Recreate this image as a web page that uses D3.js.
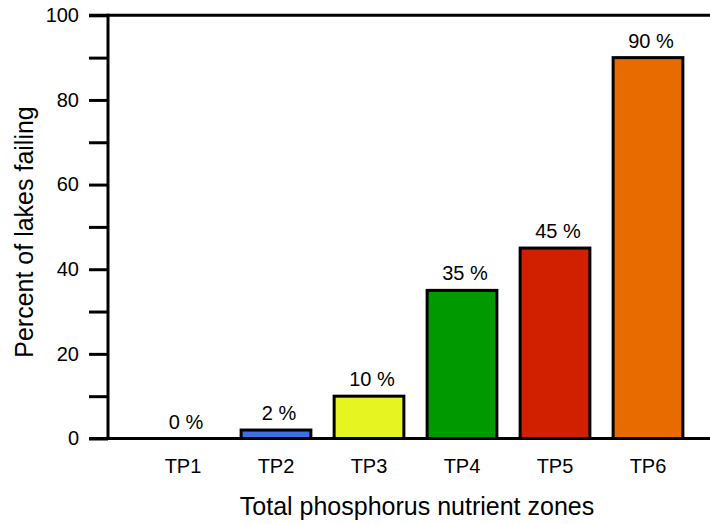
<!DOCTYPE html>
<html>
<head>
<meta charset="utf-8">
<script src="https://cdn.jsdelivr.net/npm/d3@7"></script>
<style>
  body { margin: 0; background: #fff; }
  svg { font-family: "Liberation Sans", Arial, sans-serif; }
</style>
</head>
<body>
<div id="chart"></div>
<script>
// data
var zones = ["TP1", "TP2", "TP3", "TP4", "TP5", "TP6"];
var failing = [0, 2, 10, 35, 45, 90];
var barColors = ["#ffffff", "#3b6fe6", "#e6f522", "#009a00", "#d02000", "#e86b00"];
var yTicks = [0, 10, 20, 30, 40, 50, 60, 70, 80, 90, 100];
var yLabels = [0, 20, 40, 60, 80, 100];

var W = 710, H = 524;

var svg = d3.select("#chart")
  .append("svg")
    .attr("width", W)
    .attr("height", H);

var x = d3.scaleBand()
  .domain(zones)
  .range([136.5, 694.5])
  .paddingInner(0.25)
  .paddingOuter(0.125);

var y = d3.scaleLinear()
  .domain([0, 100])
  .range([438.5, 15.3]);

var axisX = 108;

// top frame line
svg.append("line")
  .attr("x1", 89).attr("x2", W)
  .attr("y1", y(100)).attr("y2", y(100))
  .attr("stroke", "#000").attr("stroke-width", 3);

// bars
svg.selectAll(".bar")
  .data(zones)
  .enter()
  .append("rect")
    .attr("class", "bar")
    .attr("x", function(d) { return x(d); })
    .attr("y", function(d, i) { return y(failing[i]); })
    .attr("width", x.bandwidth())
    .attr("height", function(d, i) { return y(0) - y(failing[i]); })
    .style("fill", function(d, i) { return barColors[i]; })
    .style("stroke", "#000")
    .style("stroke-width", 3);

// baseline
svg.append("line")
  .attr("x1", 89).attr("x2", W)
  .attr("y1", y(0)).attr("y2", y(0))
  .attr("stroke", "#000").attr("stroke-width", 3);

// y axis
var yAxis = svg.append("g")
  .attr("transform", "translate(" + axisX + ",0)")
  .call(d3.axisLeft(y).tickValues(yTicks).tickSize(19).tickPadding(10)
    .tickFormat(function(d) { return yLabels.indexOf(d) >= 0 ? d : ""; }));
yAxis.select(".domain").remove();
yAxis.selectAll("line").attr("stroke", "#000").attr("stroke-width", 3);
yAxis.selectAll("text")
  .style("font-size", "20px")
  .style("fill", "#000")
  .style("font-family", "Liberation Sans, Arial, sans-serif");
svg.append("line")
  .attr("x1", axisX).attr("x2", axisX)
  .attr("y1", y(100) - 1.5).attr("y2", y(0) + 1.5)
  .attr("stroke", "#000").attr("stroke-width", 3);

// x labels
svg.selectAll(".xlab")
  .data(zones)
  .enter()
  .append("text")
    .attr("class", "xlab")
    .attr("x", function(d) { return x(d) + x.bandwidth() / 2; })
    .attr("y", 473)
    .attr("text-anchor", "middle")
    .style("font-size", "20px")
    .text(function(d) { return d; });

// value labels
svg.selectAll(".vlab")
  .data(zones)
  .enter()
  .append("text")
    .attr("class", "vlab")
    .attr("x", function(d) { return x(d) + x.bandwidth() / 2 + 3; })
    .attr("y", function(d, i) { return y(failing[i]) - 10; })
    .attr("text-anchor", "middle")
    .style("font-size", "20px")
    .text(function(d, i) { return failing[i] + " %"; });

// axis titles
svg.append("text")
  .attr("x", 417)
  .attr("y", 515)
  .attr("text-anchor", "middle")
  .style("font-size", "25px")
  .text("Total phosphorus nutrient zones");

svg.append("text")
  .attr("transform", "translate(33,232) rotate(-90)")
  .attr("text-anchor", "middle")
  .style("font-size", "25px")
  .text("Percent of lakes failing");
</script>
</body>
</html>
